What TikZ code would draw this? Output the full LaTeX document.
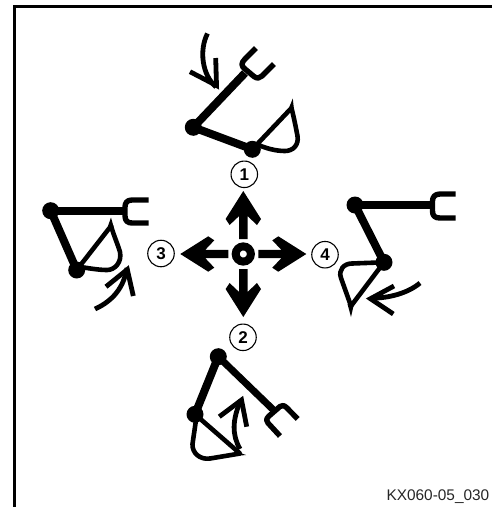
\documentclass[tikz,border=0pt]{standalone}
\usepackage{fontspec}
\setmainfont{Liberation Sans}
\tikzset{
  x=1pt,y=-1pt,
  armline/.style={line width=8pt},
  forkline/.style={line width=5.4pt,line join=round},
  bucketline/.style={line width=4.6pt,line join=round},
  curvearrow/.style={line width=4.8pt},
  headline/.style={line width=4.8pt,miter limit=10},
  pivot/.style={circle,fill=black,inner sep=0pt,minimum size=17pt},
  numcirc/.style={circle,draw=black,line width=1.1pt,fill=white,inner sep=0pt,minimum size=26.5pt,font=\fontsize{17}{17}\selectfont\bfseries},
}
\newcommand{\movearrow}[1]{%
  \fill[black,rotate around={#1:(243.3,254)}]
    (243.3,191) -- (261,219) -- (257,225) -- (247.5,216) -- (247.5,239)
    -- (239.1,239) -- (239.1,216) -- (229.6,225) -- (225.6,219) -- cycle;}
\begin{document}
\begin{tikzpicture}
\useasboundingbox (0,0) rectangle (492,507);
\fill[white] (0,0) rectangle (492,507);
\draw[line width=3pt] (14.5,507) -- (14.5,6.5) -- (492,6.5);
% centre
\movearrow{0}\movearrow{90}\movearrow{180}\movearrow{270}
\draw[line width=8pt] (243.3,254) circle[radius=7.6];
% labels
\node[numcirc] (n1) at (244.3,174.3) {1};
\node[numcirc] (n2) at (243,337.3) {2};
\node[numcirc] (n3) at (161,253.5) {3};
\node[numcirc] (n4) at (325,254.7) {4};
% top excavator
\node[pivot] (a1) at (193.3,127.3) {};
\node[pivot] (b1) at (252.3,149.3) {};
\draw[armline] (a1.center) -- (245,73);
\draw[armline] (a1.center) -- (b1.center);
\draw[forkline] (256,48) -- (245,59) .. controls (241,63) and (241,66) .. (245,69) -- (254,76.5) .. controls (257,79) and (260,78) .. (262,76) -- (274,64);
\draw[bucketline] (b1.center) -- (291.5,108) .. controls (294,118) and (296,128) .. (297.5,136) .. controls (299,145) and (293,151) .. (285,151) .. controls (275,151) and (265,148) .. (256,144);
\fill (288.5,109) -- (292.8,98.5) -- (294,110) -- cycle;
\draw[curvearrow] (207.5,33.5) .. controls (199,50) and (202,75) .. (216,87);
\draw[headline] (215.7,58) -- (216.5,85.5) -- (190,71.7);
% left excavator
\node[pivot] (a3) at (50.7,210.7) {};
\node[pivot] (b3) at (76.7,270) {};
\draw[armline] (a3.center) -- (127,210.7);
\draw[armline] (a3.center) -- (b3.center);
\draw[forkline] (148.5,200) -- (132,200) .. controls (127,200) and (125,203) .. (125,207) -- (125,216) .. controls (125,221) and (128,223) .. (132,223) -- (148.5,223);
\draw[bucketline] (b3.center) -- (111,226) .. controls (114,236) and (118,245) .. (120,252) .. controls (122,262) and (115,270) .. (107,270) .. controls (98,270) and (88,268) .. (80,267);
\fill (108,226) -- (111,217.5) -- (114,228) -- cycle;
\draw[curvearrow] (95,309) .. controls (108,303) and (123,292) .. (127,268);
\draw[headline] (106,286.7) -- (127.3,269.5) -- (133.3,296);
% right excavator
\node[pivot] (a4) at (355,205) {};
\node[pivot] (b4) at (384,262.3) {};
\draw[armline] (a4.center) -- (434,205);
\draw[armline] (a4.center) -- (b4.center);
\draw[forkline] (455.7,194) -- (440,194) .. controls (435,194) and (432.5,197) .. (432.5,201) -- (432.5,211) .. controls (432.5,216) and (435,218) .. (440,218) -- (455.7,218);
\draw[bucketline] (b4.center) -- (351,306) -- (341,278) .. controls (338,270) and (344,263.5) .. (352,263.5) -- (384,262.3);
\fill (347.5,304) -- (351,317) -- (353.5,306) -- cycle;
\draw[curvearrow] (420,283) .. controls (408,293) and (390,298) .. (371,298.3);
\draw[headline] (394,286) -- (370.5,298.7) -- (393.3,314);
% bottom excavator
\node[pivot] (a2) at (218.3,356.7) {};
\node[pivot] (b2) at (195,414.3) {};
\draw[armline] (a2.center) -- (b2.center);
\draw[line width=7pt] (a2.center) -- (273.5,410);
\draw[forkline] (297.7,419) -- (287,408) .. controls (284,405) and (282,405) .. (280,406.5) -- (269,416) .. controls (266,419) and (266,421) .. (268,423) -- (280,436);
\draw[bucketline] (b2.center) -- (240,453.5) -- (210,458.5) .. controls (200,460) and (192,453) .. (192.5,444) -- (196,420);
\fill (235,451) -- (246,455) -- (235,456) -- cycle;
\draw[curvearrow] (240,449) .. controls (232,435) and (232,420) .. (241,400);
\draw[headline] (219.3,416.7) -- (241.5,400) -- (246.7,426.7);
% caption
\node[anchor=base east,inner sep=0pt,font=\fontsize{15.4}{15.4}\selectfont,text=black!85] (cap) at (489.5,500.7) {KX060-05\_030};
\end{tikzpicture}
\end{document}
